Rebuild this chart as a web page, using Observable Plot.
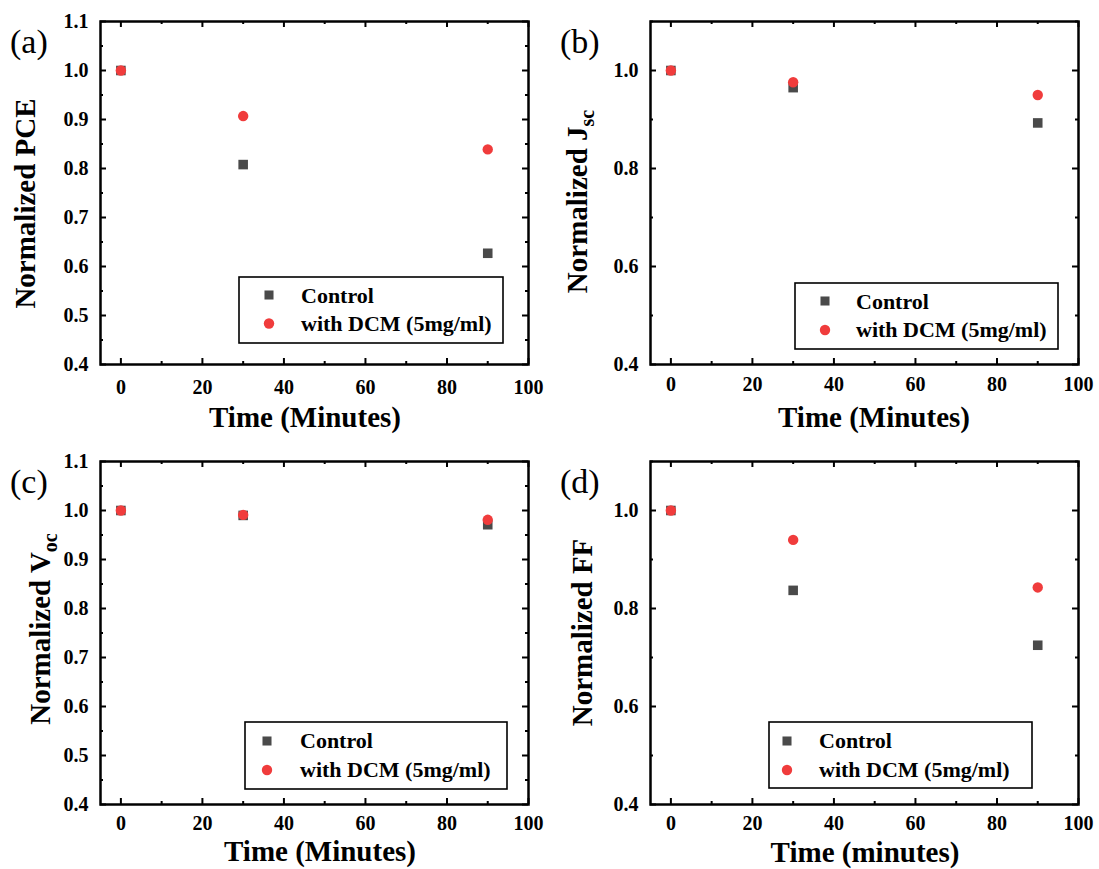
<!DOCTYPE html>
<html><head><meta charset="utf-8">
<script src="https://cdn.jsdelivr.net/npm/d3@7"></script>
<script src="https://cdn.jsdelivr.net/npm/@observablehq/plot@0.6"></script>
<style>
body{margin:0;background:#fff;}
#wrap{position:relative;width:1099px;height:869px;background:#fff;overflow:hidden;}
#wrap svg{position:absolute;overflow:visible;}
#wrap svg text{font-family:'Liberation Serif','Times New Roman',serif !important;}
#wrap svg g[aria-label="x-axis tick label"] text,
#wrap svg g[aria-label="y-axis tick label"] text{font-weight:bold !important;font-size:20px !important;fill:#000 !important;}
</style></head><body><div id="wrap"></div>
<script>
// ---- data ----
const times = [0, 30, 90];
const seriesNames = ["Control", "with DCM (5mg/ml)"];
const seriesColors = ["#4a4a4a", "#f03c3c"];
const seriesSymbols = ["square", "circle"];

const pceControl = [1.0, 0.808, 0.627];
const pceDCM     = [1.0, 0.907, 0.839];
const jscControl = [1.0, 0.965, 0.893];
const jscDCM     = [1.0, 0.976, 0.950];
const vocControl = [1.0, 0.990, 0.971];
const vocDCM     = [1.0, 0.991, 0.981];
const ffControl  = [1.0, 0.837, 0.725];
const ffDCM      = [1.0, 0.940, 0.843];

const xTicks = [0, 20, 40, 60, 80, 100];
const xMinor = [10, 30, 50, 70, 90];
const yTicksFine = [0.4, 0.5, 0.6, 0.7, 0.8, 0.9, 1.0, 1.1];
const yMinorFine = [0.45, 0.55, 0.65, 0.75, 0.85, 0.95, 1.05];
const yTicksCoarse = [0.4, 0.6, 0.8, 1.0];
const yMinorCoarse = [0.5, 0.7, 0.9, 1.1];

const panelLabels = ["(a)", "(b)", "(c)", "(d)"];
const yTitles = [
  {main: "Normalized PCE", sub: ""},
  {main: "Normalized J", sub: "sc"},
  {main: "Normalized V", sub: "oc"},
  {main: "Normalized FF", sub: ""}
];
const xTitles = ["Time (Minutes)", "Time (Minutes)", "Time (Minutes)", "Time (minutes)"];

// ---- layout ----
const FONT = "'Liberation Serif', 'Times New Roman', serif";
const W = 549, ML = 100, MR = 21, MT = 21;
const panels = [
  {left: 0,   top: 0,   h: 440, mb: 76, ser: [pceControl, pceDCM], yt: yTicksFine, ym: yMinorFine,
   yT: [35, 203.5], xT: [305, 427], xPad: 15,
   lg: {x: 239, y: 277, w: 264, h: 66, mx: 269, my: [295, 323.5], tx: 301, ty: [303, 331]}},
  {left: 550, top: 0,   h: 440, mb: 76, ser: [jscControl, jscDCM], yt: yTicksCoarse, ym: yMinorCoarse,
   yT: [37, 201.5], xT: [324, 427], xPad: 12,
   lg: {x: 245, y: 283, w: 263, h: 66, mx: 275, my: [301, 330], tx: 306, ty: [309, 337]}},
  {left: 0,   top: 440, h: 429, mb: 65, ser: [vocControl, vocDCM], yt: yTicksFine, ym: yMinorFine,
   yT: [50, 189], xT: [320, 421], xPad: 11,
   lg: {x: 245, y: 282, w: 262, h: 67, mx: 267, my: [301, 330], tx: 300, ty: [308, 337]}},
  {left: 550, top: 440, h: 429, mb: 65, ser: [ffControl, ffDCM], yt: yTicksCoarse, ym: yMinorCoarse,
   yT: [42, 192.5], xT: [315, 422], xPad: 11,
   lg: {x: 219, y: 282, w: 263, h: 66, mx: 237, my: [301, 330], tx: 269, ty: [308, 337]}}
];

const wrap = document.getElementById("wrap");

panels.forEach((p, i) => {
  const plotW = W - ML - MR, plotH = p.h - MT - p.mb;
  const MAJ = 6, MIN = 3;
  const rows = p.ser.map(vals => times.map((t, k) => ({t, v: vals[k]})));
  const tickStyle = {stroke: "#000", strokeWidth: 2};
  const svg = Plot.plot({
    width: W, height: p.h,
    marginLeft: ML, marginRight: MR, marginTop: MT, marginBottom: p.mb,
    style: {fontFamily: FONT, fontWeight: "bold", fontSize: "20px", color: "#000", background: "transparent", overflow: "visible"},
    x: {domain: [-5, 100]},
    y: {domain: [0.4, 1.1]},
    marks: [
      Plot.tickX(xTicks, {x: d => d, insetTop: plotH - MAJ, ...tickStyle}),
      Plot.tickX(xMinor, {x: d => d, insetTop: plotH - MIN, ...tickStyle}),
      Plot.tickX(xTicks, {x: d => d, insetBottom: plotH - MAJ, ...tickStyle}),
      Plot.tickX(xMinor, {x: d => d, insetBottom: plotH - MIN, ...tickStyle}),
      Plot.tickY(p.yt, {y: d => d, insetRight: plotW - MAJ, ...tickStyle}),
      Plot.tickY(p.ym, {y: d => d, insetRight: plotW - MIN, ...tickStyle}),
      Plot.tickY(p.yt, {y: d => d, insetLeft: plotW - MAJ, ...tickStyle}),
      Plot.tickY(p.ym, {y: d => d, insetLeft: plotW - MIN, ...tickStyle}),
      Plot.frame({stroke: "#000", strokeWidth: 2.5}),
      Plot.axisX(xTicks, {anchor: "bottom", tickSize: 0, tickPadding: p.xPad, label: null,
        fontSize: 20, fontWeight: "bold", fill: "#000"}),
      Plot.axisY(p.yt, {anchor: "left", tickSize: 0, tickPadding: 12, label: null,
        tickFormat: d3.format(".1f"), fontSize: 20, fontWeight: "bold", fill: "#000"}),
      Plot.dot(rows[0], {x: "t", y: "v", symbol: seriesSymbols[0], fill: seriesColors[0], r: 5.4}),
      Plot.dot(rows[1], {x: "t", y: "v", symbol: seriesSymbols[1], fill: seriesColors[1], r: 5.2})
    ]
  });
  svg.style.left = p.left + "px";
  svg.style.top = p.top + "px";
  wrap.appendChild(svg);
  const s = d3.select(svg);

  // panel label
  s.append("text").attr("x", 10).attr("y", 53).attr("text-anchor", "start")
    .attr("font-family", FONT).attr("font-size", 34).attr("font-weight", "normal")
    .attr("fill", "#000").text(panelLabels[i]);

  // y title
  const yt = s.append("text")
    .attr("transform", `translate(${p.yT[0]},${p.yT[1]}) rotate(-90)`)
    .attr("text-anchor", "middle").attr("font-family", FONT)
    .attr("font-size", 29).attr("font-weight", "bold").attr("fill", "#000");
  yt.append("tspan").text(yTitles[i].main);
  if (yTitles[i].sub) {
    yt.append("tspan").attr("dy", 7).attr("font-size", 20).text(yTitles[i].sub);
  }

  // x title
  s.append("text").attr("x", p.xT[0]).attr("y", p.xT[1])
    .attr("text-anchor", "middle").attr("font-family", FONT)
    .attr("font-size", 29).attr("font-weight", "bold").attr("fill", "#000")
    .text(xTitles[i]);

  // legend
  const lg = p.lg;
  const g = s.append("g");
  g.append("rect").attr("x", lg.x).attr("y", lg.y).attr("width", lg.w).attr("height", lg.h)
    .attr("fill", "#fff").attr("stroke", "#000").attr("stroke-width", 1.6);
  seriesNames.forEach((name, k) => {
    const sym = k === 0 ? d3.symbolSquare : d3.symbolCircle;
    const r = k === 0 ? 5.1 : 5.2;
    g.append("path")
      .attr("d", d3.symbol(sym, r * r * Math.PI)())
      .attr("transform", `translate(${lg.mx},${lg.my[k]})`)
      .attr("fill", seriesColors[k]);
    g.append("text").attr("x", lg.tx).attr("y", lg.ty[k]).attr("text-anchor", "start")
      .attr("font-family", FONT).attr("font-size", 22).attr("font-weight", "bold")
      .attr("fill", "#000").text(name);
  });
});
</script>
</body></html>
